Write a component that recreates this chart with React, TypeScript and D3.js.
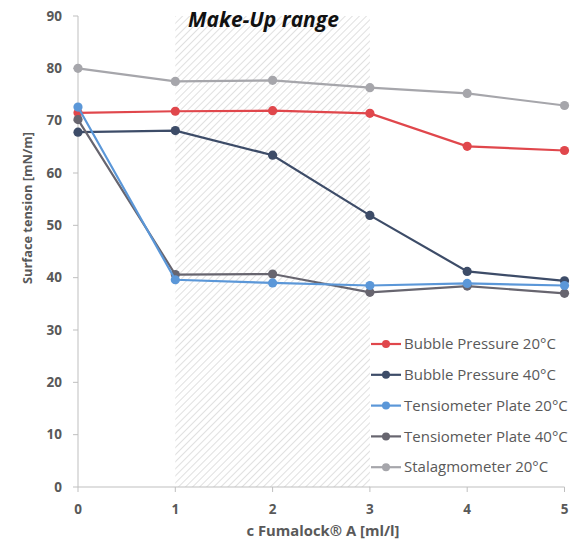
import React from 'react';
import * as d3 from 'd3';

const concentrations = [0, 1, 2, 3, 4, 5];
const xTicks = [0, 1, 2, 3, 4, 5];
const yTicks = [0, 10, 20, 30, 40, 50, 60, 70, 80, 90];

const bubble20 = [71.5, 71.8, 71.9, 71.4, 65.1, 64.3];
const bubble40 = [67.8, 68.1, 63.4, 51.9, 41.2, 39.4];
const plate20 = [72.6, 39.6, 39.0, 38.5, 38.9, 38.5];
const plate40 = [70.2, 40.6, 40.7, 37.2, 38.4, 37.0];
const stalag20 = [80.0, 77.5, 77.7, 76.3, 75.2, 72.9];

const seriesNames = [
  'Bubble Pressure 20°C',
  'Bubble Pressure 40°C',
  'Tensiometer Plate 20°C',
  'Tensiometer Plate 40°C',
  'Stalagmometer 20°C',
];
const seriesValues = [bubble20, bubble40, plate20, plate40, stalag20];
const seriesColors = ['#E0474C', '#3D4C68', '#5B97D8', '#67656F', '#A6A6AB'];

const rangeStart = 1;
const rangeEnd = 3;

const W = 577;
const H = 544;
const FONT = '"Open Sans", Lato, sans-serif';
const TEXT = '#595959';

export default function App() {
  const x = d3.scaleLinear().domain([0, 5]).range([78, 564.5]);
  const y = d3.scaleLinear().domain([0, 90]).range([487, 16]);
  const line = d3.line<number>().x((_, i) => x(concentrations[i])).y(d => y(d));

  const drawOrder = [4, 0, 1, 3, 2];

  return (
    <svg width={W} height={H} style={{ position: 'absolute', left: 0, top: 0 }}>
      <defs>
        <pattern id="hatch" width="5" height="5" patternUnits="userSpaceOnUse" patternTransform="rotate(45)">
          <line x1="0" y1="0" x2="0" y2="5" stroke="#d2d2d2" strokeWidth="1.4" />
        </pattern>
      </defs>
      <rect width={W} height={H} fill="#fff" />

      {/* make-up range */}
      <rect x={x(rangeStart)} y={y(90)} width={x(rangeEnd) - x(rangeStart)} height={y(0) - y(90)} fill="url(#hatch)" />
      <text x={188} y={27} fontFamily={FONT} fontSize={21} fontWeight="bold" fontStyle="italic" fill="#111">
        Make-Up range
      </text>

      {/* axes */}
      <line x1={x(0)} x2={x(0)} y1={y(90)} y2={y(0)} stroke="#bfbfbf" />
      <line x1={x(0)} x2={x(5)} y1={y(0)} y2={y(0)} stroke="#bfbfbf" />
      {yTicks.map(t => (
        <g key={'y' + t}>
          <line x1={x(0) - 5} x2={x(0)} y1={y(t)} y2={y(t)} stroke="#bfbfbf" />
          <text x={x(0) - 16} y={y(t)} dy="0.35em" textAnchor="end" fontFamily={FONT} fontSize={13.5} fontWeight="bold" fill={TEXT}>
            {t}
          </text>
        </g>
      ))}
      {xTicks.map(t => (
        <g key={'x' + t}>
          <line x1={x(t)} x2={x(t)} y1={y(0)} y2={y(0) + 5} stroke="#bfbfbf" />
          <text x={x(t)} y={y(0) + 22} dy="0.35em" textAnchor="middle" fontFamily={FONT} fontSize={13.5} fontWeight="bold" fill={TEXT}>
            {t}
          </text>
        </g>
      ))}
      <text transform={`translate(32,208) rotate(-90)`} textAnchor="middle" fontFamily={FONT} fontSize={12.8} fontWeight="bold" fill={TEXT}>
        Surface tension [mN/m]
      </text>
      <text x={323} y={536} textAnchor="middle" fontFamily={FONT} fontSize={14.8} fontWeight="bold" fill={TEXT}>
        c Fumalock® A [ml/l]
      </text>

      {/* series */}
      {drawOrder.map(si => (
        <g key={seriesNames[si]}>
          <path d={line(seriesValues[si]) || ''} fill="none" stroke={seriesColors[si]} strokeWidth={2.2} />
          {seriesValues[si].map((v, i) => (
            <circle key={i} cx={x(concentrations[i])} cy={y(v)} r={4.6} fill={seriesColors[si]} />
          ))}
        </g>
      ))}

      {/* legend */}
      {seriesNames.map((name, i) => {
        const ly = 344 + i * 30.8;
        return (
          <g key={name}>
            <line x1={371} x2={401} y1={ly} y2={ly} stroke={seriesColors[i]} strokeWidth={2.2} />
            <circle cx={386} cy={ly} r={4} fill={seriesColors[i]} />
            <text x={404} y={ly} dy="0.35em" fontFamily={FONT} fontSize={15} fill={TEXT}>
              {name}
            </text>
          </g>
        );
      })}
    </svg>
  );
}
